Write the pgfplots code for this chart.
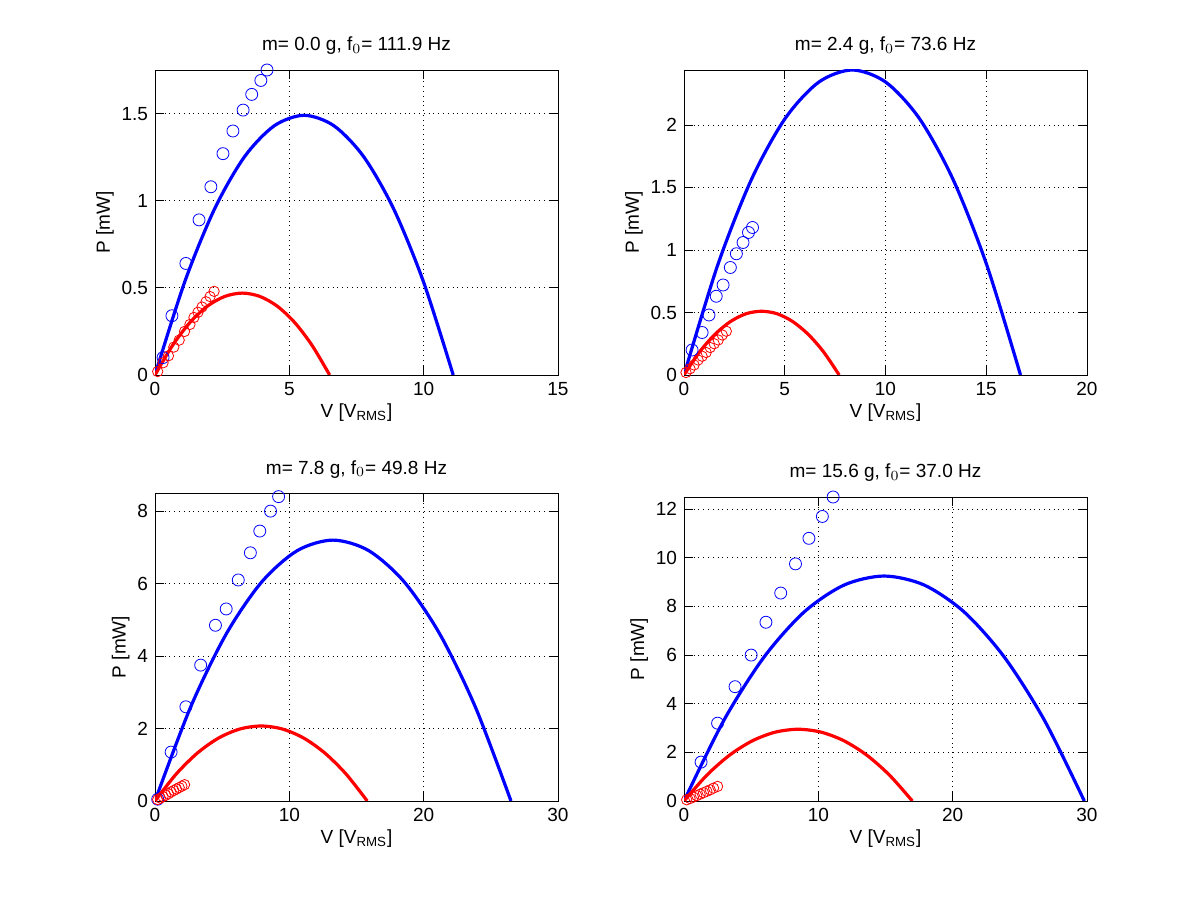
\documentclass[border=0pt]{standalone}
\usepackage{pgfplots}
\pgfplotsset{compat=1.18}
\usepackage{fontspec}
\setmainfont{Liberation Sans}
\pgfplotsset{myax/.style={scale only axis, width=201.5pt, height=152.5pt, anchor=south west,
 font=\fontsize{9.5}{11}\selectfont, title style={font=\fontsize{9.5}{11}\selectfont, yshift=-2pt},
 /pgf/number format/assume math mode=true, tick align=inside, tick style={black, thin},
 grid=major, major grid style={dotted, black, thin}, axis line style={black, thin},
 xmin=0, ymin=0, xlabel={V [V$_{\mathrm{RMS}}$]}, ylabel={P [mW]},
 xlabel style={yshift=3pt}, ylabel style={yshift=-3pt},
 scaled ticks=false, yticklabel style={/pgf/number format/fixed}},
 bl/.style={blue, line width=1.6pt, smooth, no marks},
 rl/.style={red, line width=1.6pt, smooth, no marks},
 bm/.style={only marks, blue, mark=o, mark size=3pt, thin},
 rm/.style={only marks, red, mark=o, mark size=2.6pt, thin}}
\begin{document}
\begin{tikzpicture}
\useasboundingbox (0,0) rectangle (600.5pt,450.5pt);
% TL
\begin{axis}[myax, at={(77.5pt,263pt)}, xmax=15, ymax=1.75, xtick={0,5,10,15}, ytick={0,0.5,1,1.5},
 title={m= 0.0 g, f$_0$= 111.9 Hz}]
\addplot[bl] coordinates {(0,0)(1.11,0.536)(2.22,0.954)(3.33,1.252)(4.44,1.430)(5.55,1.49)(6.66,1.430)(7.77,1.252)(8.88,0.954)(9.99,0.536)(11.1,0)};
\addplot[rl] coordinates {(0,0)(0.65,0.169)(1.3,0.301)(1.95,0.395)(2.6,0.451)(3.25,0.47)(3.9,0.451)(4.55,0.395)(5.2,0.301)(5.85,0.169)(6.5,0)};
\addplot[bm] coordinates {(0.3,0.10)(0.63,0.34)(1.15,0.64)(1.64,0.89)(2.08,1.08)(2.53,1.27)(2.9,1.40)(3.28,1.52)(3.6,1.61)(3.94,1.69)(4.17,1.75)};
\addplot[rm] coordinates {(0.1,0.02)(0.3,0.07)(0.5,0.11)(0.7,0.16)(0.9,0.2)(1.1,0.25)(1.3,0.29)(1.45,0.33)(1.6,0.36)(1.75,0.39)(1.9,0.42)(2.05,0.45)(2.2,0.48)};
\end{axis}
% TR
\begin{axis}[myax, at={(342pt,263pt)}, xmax=20, ymax=2.44, xtick={0,5,10,15,20}, ytick={0,0.5,1,1.5,2},
 title={m= 2.4 g, f$_0$= 73.6 Hz}]
\addplot[bl] coordinates {(0,0)(1.67,0.878)(3.34,1.562)(5.01,2.050)(6.68,2.342)(8.35,2.44)(10.02,2.342)(11.69,2.050)(13.36,1.562)(15.03,0.878)(16.7,0)};
\addplot[rl] coordinates {(0,0)(0.77,0.184)(1.54,0.326)(2.31,0.428)(3.08,0.490)(3.85,0.51)(4.62,0.490)(5.39,0.428)(6.16,0.326)(6.93,0.184)(7.7,0)};
\addplot[bm] coordinates {(0.4,0.2)(0.9,0.34)(1.24,0.48)(1.6,0.63)(1.94,0.72)(2.3,0.86)(2.6,0.97)(2.93,1.06)(3.2,1.14)(3.4,1.18)};
\addplot[rm] coordinates {(0.1,0.02)(0.3,0.05)(0.5,0.08)(0.7,0.12)(0.9,0.15)(1.1,0.18)(1.3,0.22)(1.5,0.25)(1.7,0.28)(1.9,0.32)(2.1,0.35)};
\end{axis}
% BL
\begin{axis}[myax, at={(77.5pt,50pt)}, height=154pt, xmax=30, ymax=8.5, xtick={0,10,20,30}, ytick={0,2,4,6,8},
 title={m= 7.8 g, f$_0$= 49.8 Hz}]
\addplot[bl] coordinates {(0,0)(2.65,2.592)(5.3,4.608)(7.95,6.048)(10.6,6.912)(13.25,7.2)(15.9,6.912)(18.55,6.048)(21.2,4.608)(23.85,2.592)(26.5,0)};
\addplot[rl] coordinates {(0,0)(1.58,0.745)(3.16,1.325)(4.74,1.739)(6.32,1.987)(7.9,2.07)(9.48,1.987)(11.06,1.739)(12.64,1.325)(14.22,0.745)(15.8,0)};
\addplot[bm] coordinates {(0.2,0.05)(1.2,1.35)(2.3,2.6)(3.4,3.75)(4.5,4.85)(5.3,5.3)(6.2,6.1)(7.1,6.85)(7.8,7.45)(8.6,8.0)(9.2,8.4)};
\addplot[rm] coordinates {(0.2,0.04)(0.4,0.08)(0.6,0.12)(0.8,0.16)(1.0,0.2)(1.2,0.25)(1.4,0.29)(1.6,0.33)(1.8,0.37)(2.0,0.41)(2.2,0.45)};
\end{axis}
% BR
\begin{axis}[myax, at={(342pt,50pt)}, height=152pt, xmax=30, ymax=12.5, xtick={0,10,20,30}, ytick={0,2,4,6,8,10,12},
 title={m= 15.6 g, f$_0$= 37.0 Hz}]
\addplot[bl] coordinates {(0,0)(2.98,3.33)(5.96,5.92)(8.94,7.77)(11.92,8.88)(14.9,9.25)(17.88,8.88)(20.86,7.77)(23.84,5.92)(26.82,3.33)(29.8,0)};
\addplot[rl] coordinates {(0,0)(1.7,1.062)(3.4,1.888)(5.1,2.478)(6.8,2.832)(8.5,2.95)(10.2,2.832)(11.9,2.478)(13.6,1.888)(15.3,1.062)(17,0)};
\addplot[bm] coordinates {(1.27,1.6)(2.5,3.2)(3.8,4.7)(5.0,6.0)(6.1,7.35)(7.2,8.55)(8.3,9.75)(9.3,10.8)(10.3,11.7)(11.1,12.5)};
\addplot[rm] coordinates {(0.2,0.05)(0.45,0.1)(0.7,0.16)(0.95,0.22)(1.2,0.28)(1.45,0.34)(1.7,0.4)(1.95,0.46)(2.2,0.53)(2.5,0.6)};
\end{axis}
\end{tikzpicture}
\end{document}
